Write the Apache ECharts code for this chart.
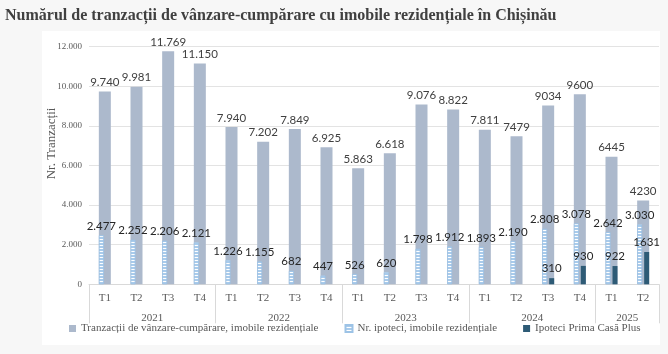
<!DOCTYPE html>
<html>
<head>
<meta charset="utf-8">
<script src="https://cdn.jsdelivr.net/npm/echarts@6/dist/echarts.min.js"></script>
<style>
html,body{margin:0;padding:0;background:#f7f7f7;}
#panel{position:absolute;left:42px;top:31px;width:618px;height:314px;background:#fff;}
#chart{position:absolute;left:0;top:0;width:668px;height:354px;}
</style>
</head>
<body>
<div id="panel"></div>
<div id="chart"></div>
<script>
const quarters = ['T1','T2','T3','T4','T1','T2','T3','T4','T1','T2','T3','T4','T1','T2','T3','T4','T1','T2'];
const years = ['2021','2022','2023','2024','2025'];
const yearSizes = [4,4,4,4,2];
const tranzactii = [9740,9981,11769,11150,7940,7202,7849,6925,5863,6618,9076,8822,7811,7479,9034,9600,6445,4230];
const tranzactiiLabels = ['9.740','9.981','11.769','11.150','7.940','7.202','7.849','6.925','5.863','6.618','9.076','8.822','7.811','7479','9034','9600','6445','4230'];
const ipoteci = [2477,2252,2206,2121,1226,1155,682,447,526,620,1798,1912,1893,2190,2808,3078,2642,3030];
const ipoteciLabels = ['2.477','2.252','2.206','2.121','1.226','1.155','682','447','526','620','1.798','1.912','1.893','2.190','2.808','3.078','2.642','3.030'];
const primaCasa = [null,null,null,null,null,null,null,null,null,null,null,null,null,null,310,930,922,1631];
const primaCasaLabels = ['','','','','','','','','','','','','','','310','930','922','1631'];
const yTicks = [0,2000,4000,6000,8000,10000,12000];
const yTickLabels = ['0','2.000','4.000','6.000','8.000','10.000','12.000'];

const boundaries = [0];
yearSizes.forEach(s => boundaries.push(boundaries[boundaries.length-1] + s));
const yearAxisData = new Array(quarters.length + 1).fill('');
const yearLabelIdx = [];
years.forEach((y, i) => {
  const mid = (boundaries[i] + boundaries[i+1]) / 2;
  yearAxisData[mid] = y;
  yearLabelIdx.push(mid);
});

const pc = document.createElement('canvas');
pc.width = 4; pc.height = 3;
const pctx = pc.getContext('2d');
pctx.fillStyle = '#ffffff'; pctx.fillRect(0,0,4,3);
pctx.fillStyle = '#a9cbeb'; pctx.fillRect(0,0,4,2);

const serif = 'Liberation Serif';
const sans = 'Lato';

const chart = echarts.init(document.getElementById('chart'), null, {renderer:'canvas'});
chart.setOption({
  backgroundColor: 'transparent',
  animation: false,
  title: {
    text: 'Numărul de tranzacții de vânzare-cumpărare cu imobile rezidențiale în Chișinău',
    left: 0, top: 3,
    textStyle: {fontFamily: serif, fontWeight: 'bold', fontSize: 16, color: '#404040'}
  },
  grid: {left: 89, right: 9, top: 46.7, bottom: 69.7},
  legend: {
    bottom: 15, left: 64,
    itemWidth: 7, itemHeight: 7, itemGap: 26,
    textStyle: {fontFamily: serif, fontSize: 11, color: '#595959'},
    data: [
      {name: 'Tranzacții de vânzare-cumpărare, imobile rezidențiale', icon: 'rect'},
      {name: 'Nr. ipoteci, imobile rezidențiale', icon: 'rect'},
      {name: 'Ipoteci Prima Casă Plus', icon: 'rect'}
    ]
  },
  xAxis: [
    {
      type: 'category', data: quarters, position: 'bottom',
      axisLine: {show: true, lineStyle: {color: '#d9d9d9'}},
      axisTick: {show: false},
      axisLabel: {fontFamily: serif, fontSize: 11, color: '#595959', margin: 8}
    },
    {
      type: 'category', data: quarters, position: 'bottom', show: false
    },
    {
      type: 'category', data: yearAxisData, position: 'bottom', boundaryGap: false,
      axisLine: {show: false},
      axisTick: {show: true, length: 39, lineStyle: {color: '#d9d9d9'},
        interval: (idx) => boundaries.indexOf(idx) >= 0},
      axisLabel: {fontFamily: serif, fontSize: 11, color: '#595959', margin: 28,
        interval: (idx) => yearLabelIdx.indexOf(idx) >= 0}
    }
  ],
  yAxis: {
    type: 'value', min: 0, max: 12000, interval: 2000,
    name: 'Nr. Tranzacții', nameLocation: 'middle', nameGap: 31, nameMoveOverlap: false,
    nameTextStyle: {fontFamily: serif, fontSize: 13, color: '#595959', padding: [0,0,0,44]},
    axisLine: {show: false}, axisTick: {show: false},
    axisLabel: {fontFamily: serif, fontSize: 9, color: '#595959', margin: 7,
      formatter: (v) => yTickLabels[yTicks.indexOf(v)]},
    splitLine: {lineStyle: {color: '#e3e3e3'}}
  },
  series: [
    {
      name: 'Tranzacții de vânzare-cumpărare, imobile rezidențiale',
      type: 'bar', xAxisIndex: 0, data: tranzactii, barWidth: 12,
      itemStyle: {color: '#acb9cc'},
      label: {show: true, position: 'top', distance: 3, fontFamily: sans, fontSize: 11.5, color: '#404040',
        formatter: (p) => tranzactiiLabels[p.dataIndex]}
    },
    {
      name: 'Nr. ipoteci, imobile rezidențiale',
      type: 'bar', xAxisIndex: 1, data: ipoteci, barWidth: 5, barGap: '40%',
      itemStyle: {color: {image: pc, repeat: 'repeat'}, borderColor: '#9dc3e6', borderWidth: 0.8},
      label: {show: true, position: 'top', distance: 3, fontFamily: sans, fontSize: 11.5, color: '#262626',
        formatter: (p) => ipoteciLabels[p.dataIndex]},
      z: 3
    },
    {
      name: 'Ipoteci Prima Casă Plus',
      type: 'bar', xAxisIndex: 1, data: primaCasa, barWidth: 5, barGap: '40%',
      itemStyle: {color: '#2e5b76'},
      label: {show: true, position: 'top', distance: 4, fontFamily: sans, fontSize: 11.5, color: '#262626',
        formatter: (p) => primaCasaLabels[p.dataIndex]},
      z: 3
    }
  ]
});
</script>
</body>
</html>
